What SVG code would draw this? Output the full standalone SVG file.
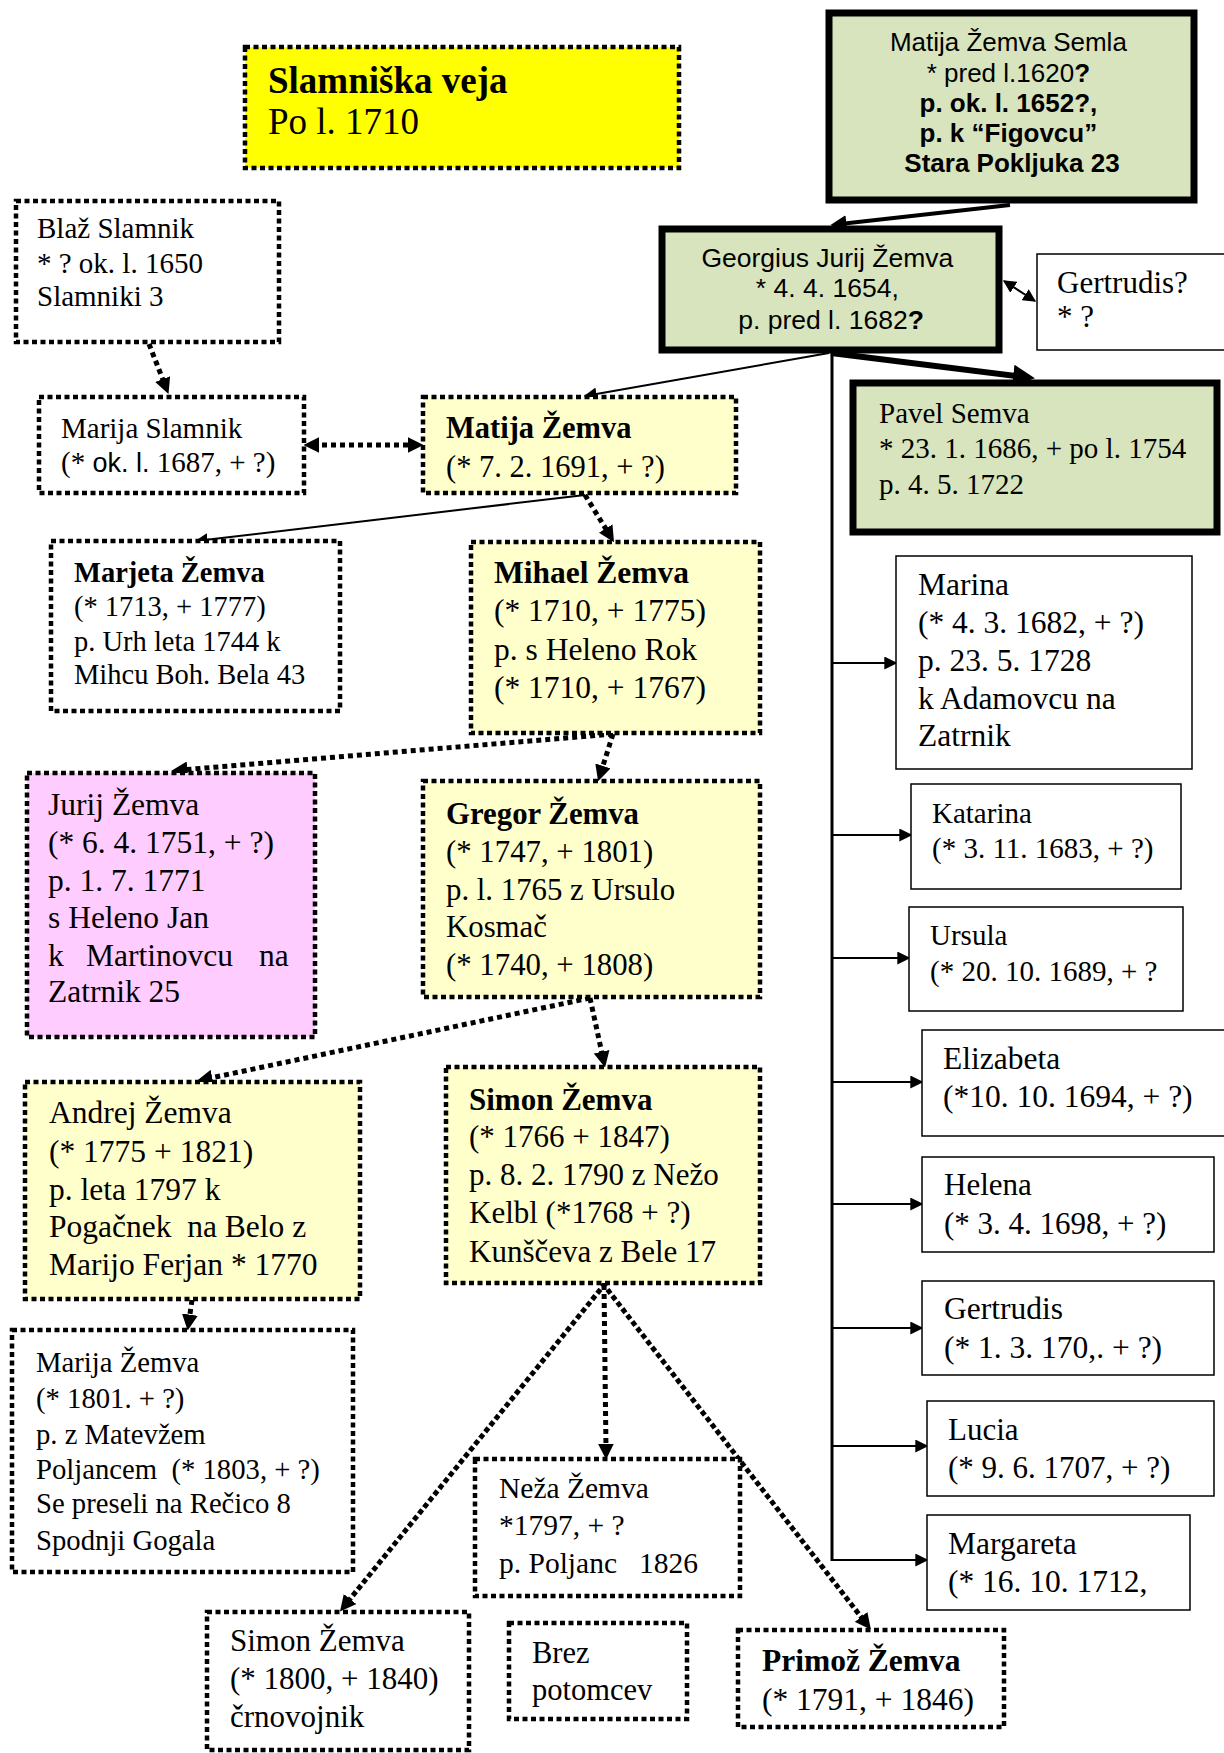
<svg xmlns="http://www.w3.org/2000/svg" width="1224" height="1753" viewBox="0 0 1224 1753">
<style>
.s{font-family:"Liberation Serif","Times New Roman",serif;fill:#000}
.a{font-family:"Liberation Sans",Arial,sans-serif;fill:#000}
.b{font-weight:bold}
.dot{stroke:#000;stroke-width:4.5;stroke-dasharray:5 3.5}
.thin{stroke:#000;stroke-width:1.5}
.thick{stroke:#000;stroke-width:7}
.yl{fill:#FFFFCC}
.wh{fill:#FFFFFF}
.gr{fill:#D7E4BD}
.c{fill:none;stroke:#000}
.cd{fill:none;stroke:#000;stroke-width:5;stroke-dasharray:5 4}
.cr{fill:none;stroke:#000;stroke-width:5;stroke-dasharray:0.1 8;stroke-linecap:square}
</style>
<defs>
<marker id="ar" viewBox="0 0 10 10" refX="4" refY="5" markerWidth="16" markerHeight="16" markerUnits="userSpaceOnUse" orient="auto-start-reverse"><path d="M0,0 L10,5 L0,10 z"/></marker>
<marker id="as" viewBox="0 0 10 10" refX="9" refY="5" markerWidth="13" markerHeight="13" markerUnits="userSpaceOnUse" orient="auto-start-reverse"><path d="M0,0 L10,5 L0,10 z"/></marker>
<marker id="al" viewBox="0 0 10 10" refX="5" refY="5" markerWidth="22" markerHeight="22" markerUnits="userSpaceOnUse" orient="auto"><path d="M0,0 L10,5 L0,10 z"/></marker>
</defs>
<rect width="1224" height="1753" fill="#fff"/>

<g id="connectors">
<line class="c" x1="1010" y1="205" x2="840" y2="224" stroke-width="4" marker-end="url(#ar)"/>
<line class="c" x1="1004" y1="281" x2="1035" y2="301" stroke-width="2" marker-start="url(#as)" marker-end="url(#as)"/>
<line class="c" x1="829" y1="353" x2="585" y2="396" stroke-width="2" marker-end="url(#as)"/>
<line class="c" x1="831" y1="353" x2="1024" y2="377" stroke-width="6" marker-end="url(#al)"/>
<line class="c" x1="832" y1="353" x2="832" y2="1561" stroke-width="3"/>
<line class="c" x1="832" y1="663" x2="896" y2="663" stroke-width="2" marker-end="url(#as)"/>
<line class="c" x1="832" y1="835" x2="911" y2="835" stroke-width="2" marker-end="url(#as)"/>
<line class="c" x1="832" y1="958" x2="909" y2="958" stroke-width="2" marker-end="url(#as)"/>
<line class="c" x1="832" y1="1082" x2="922" y2="1082" stroke-width="2" marker-end="url(#as)"/>
<line class="c" x1="832" y1="1204" x2="922" y2="1204" stroke-width="2" marker-end="url(#as)"/>
<line class="c" x1="832" y1="1328" x2="922" y2="1328" stroke-width="2" marker-end="url(#as)"/>
<line class="c" x1="832" y1="1446" x2="927" y2="1446" stroke-width="2" marker-end="url(#as)"/>
<line class="c" x1="832" y1="1560" x2="927" y2="1560" stroke-width="2" marker-end="url(#as)"/>
<line class="cd" x1="149" y1="344" x2="165" y2="385" marker-end="url(#ar)"/>
<line class="cd" x1="313" y1="445" x2="414" y2="445" marker-start="url(#ar)" marker-end="url(#ar)"/>
<line class="c" x1="585" y1="495" x2="196" y2="541" stroke-width="2" marker-end="url(#as)"/>
<line class="cd" x1="585" y1="495" x2="609" y2="534" marker-end="url(#ar)"/>
<line class="cd" x1="613" y1="734" x2="181" y2="770" marker-end="url(#ar)"/>
<line class="cd" x1="613" y1="734" x2="601" y2="772" marker-end="url(#ar)"/>
<line class="cd" x1="590" y1="998" x2="206" y2="1079" marker-end="url(#ar)"/>
<line class="cd" x1="590" y1="998" x2="603" y2="1058" marker-end="url(#ar)"/>
<line class="cd" x1="192" y1="1300" x2="189" y2="1321" marker-end="url(#ar)"/>
<line class="cr" x1="604" y1="1285" x2="346" y2="1604" marker-end="url(#ar)"/>
<line class="cd" x1="604" y1="1285" x2="606" y2="1450" marker-end="url(#ar)"/>
<line class="cr" x1="604" y1="1285" x2="865" y2="1622" marker-end="url(#ar)"/>
</g>

<g id="slamniska">
<rect x="245" y="47" width="434" height="121" fill="#FFFF00" class="dot"/>
<text class="s b" x="268" y="93" font-size="37">Slamniška veja</text>
<text class="s" x="268" y="134" font-size="37">Po l. 1710</text>
</g>

<g id="matija-semla">
<rect x="829" y="13" width="365" height="187" class="gr thick"/>
<text class="a" font-size="26" text-anchor="middle">
<tspan x="1012" y="51">Matija Žemva Semla</tspan>
<tspan x="1012" y="82">* pred l.1620<tspan class="b">?</tspan></tspan>
<tspan x="1012" y="112" class="b">p. ok. l. 1652?,</tspan>
<tspan x="1012" y="142" class="b">p. k “Figovcu”</tspan>
<tspan x="1012" y="172" class="b">Stara Pokljuka 23</tspan>
</text>
</g>

<g id="georgius">
<rect x="662" y="229" width="337" height="121" class="gr thick"/>
<text class="a" font-size="26.5" text-anchor="middle">
<tspan x="831" y="267">Georgius Jurij Žemva</tspan>
<tspan x="831" y="297">* 4. 4. 1654,</tspan>
<tspan x="831" y="329">p. pred l. 1682<tspan class="b">?</tspan></tspan>
</text>
</g>

<g id="gertrudis-wife">
<rect x="1037" y="254" width="195" height="96" class="wh thin"/>
<text class="s" font-size="31"><tspan x="1057" y="293">Gertrudis?</tspan><tspan x="1057" y="327">* ?</tspan></text>
</g>

<g id="pavel">
<rect x="853" y="383" width="364" height="149" class="gr thick"/>
<text class="s" font-size="29"><tspan x="879" y="423">Pavel Semva</tspan><tspan x="879" y="458">* 23. 1. 1686, + po l. 1754</tspan><tspan x="879" y="494">p. 4. 5. 1722</tspan></text>
</g>

<g id="blaz">
<rect x="16" y="201" width="263" height="141" class="wh dot"/>
<text class="s" font-size="29"><tspan x="37" y="238">Blaž Slamnik</tspan><tspan x="37" y="273">* ? ok. l. 1650</tspan><tspan x="37" y="306">Slamniki 3</tspan></text>
</g>

<g id="marija-slamnik">
<rect x="39" y="397" width="265" height="96" class="wh dot"/>
<text class="s" font-size="29"><tspan x="61" y="438">Marija Slamnik</tspan><tspan x="61" y="472">(* <tspan class="a" font-size="27">ok. l.</tspan> 1687, + ?)</tspan></text>
</g>

<g id="matija">
<rect x="423" y="397" width="313" height="96" class="yl dot"/>
<text class="s" font-size="30.5"><tspan x="446" y="438" class="b">Matija Žemva</tspan><tspan x="446" y="477">(* 7. 2. 1691, + ?)</tspan></text>
</g>

<g id="marjeta">
<rect x="51" y="541" width="289" height="170" class="wh dot"/>
<text class="s" font-size="28.5"><tspan x="74" y="582" class="b">Marjeta Žemva</tspan><tspan x="74" y="616">(* 1713, + 1777)</tspan><tspan x="74" y="651">p. Urh leta 1744 k</tspan><tspan x="74" y="684">Mihcu Boh. Bela 43</tspan></text>
</g>

<g id="mihael">
<rect x="471" y="542" width="289" height="191" class="yl dot"/>
<text class="s" font-size="31.5"><tspan x="494" y="583" class="b">Mihael Žemva</tspan><tspan x="494" y="621">(* 1710, + 1775)</tspan><tspan x="494" y="660">p. s Heleno Rok</tspan><tspan x="494" y="698">(* 1710, + 1767)</tspan></text>
</g>

<g id="jurij">
<rect x="27" y="773" width="288" height="264" fill="#FFCCFF" class="dot"/>
<text class="s" font-size="31.5"><tspan x="48" y="815">Jurij Žemva</tspan><tspan x="48" y="853">(* 6. 4. 1751, + ?)</tspan><tspan x="48" y="891">p. 1. 7. 1771</tspan><tspan x="48" y="928">s Heleno Jan</tspan><tspan x="48" y="966">k</tspan><tspan x="86" y="966">Martinovcu</tspan><tspan x="259" y="966">na</tspan><tspan x="48" y="1002">Zatrnik 25</tspan></text>
</g>

<g id="gregor">
<rect x="423" y="781" width="337" height="216" class="yl dot"/>
<text class="s" font-size="30.8"><tspan x="446" y="824" class="b">Gregor Žemva</tspan><tspan x="446" y="862">(* 1747, + 1801)</tspan><tspan x="446" y="900">p. l. 1765 z Ursulo</tspan><tspan x="446" y="937">Kosmač</tspan><tspan x="446" y="975">(* 1740, + 1808)</tspan></text>
</g>

<g id="andrej">
<rect x="25" y="1082" width="335" height="217" class="yl dot"/>
<text class="s" font-size="31.5" xml:space="preserve"><tspan x="49" y="1123">Andrej Žemva</tspan><tspan x="49" y="1162">(* 1775 + 1821)</tspan><tspan x="49" y="1200">p. leta 1797 k</tspan><tspan x="49" y="1237">Pogačnek  na Belo z</tspan><tspan x="49" y="1275">Marijo Ferjan * 1770</tspan></text>
</g>

<g id="simon">
<rect x="446" y="1067" width="314" height="216" class="yl dot"/>
<text class="s" font-size="31"><tspan x="469" y="1110" class="b">Simon Žemva</tspan><tspan x="469" y="1147">(* 1766 + 1847)</tspan><tspan x="469" y="1185">p. 8. 2. 1790 z Nežo</tspan><tspan x="469" y="1223">Kelbl (*1768 + ?)</tspan><tspan x="469" y="1262">Kunščeva z Bele 17</tspan></text>
</g>

<g id="marija-zemva">
<rect x="12" y="1330" width="341" height="242" class="wh dot"/>
<text class="s" font-size="28.7" xml:space="preserve"><tspan x="36" y="1372">Marija Žemva</tspan><tspan x="36" y="1408">(* 1801. + ?)</tspan><tspan x="36" y="1444">p. z Matevžem</tspan><tspan x="36" y="1479">Poljancem  (* 1803, + ?)</tspan><tspan x="36" y="1513">Se preseli na Rečico 8</tspan><tspan x="36" y="1550">Spodnji Gogala</tspan></text>
</g>

<g id="neza">
<rect x="475" y="1459" width="265" height="137" class="wh dot"/>
<text class="s" font-size="29.5" xml:space="preserve"><tspan x="499" y="1498">Neža Žemva</tspan><tspan x="499" y="1535">*1797, + ?</tspan><tspan x="499" y="1573">p. Poljanc   1826</tspan></text>
</g>

<g id="simon-1800">
<rect x="207" y="1612" width="262" height="138" class="wh dot"/>
<text class="s" font-size="31"><tspan x="230" y="1651">Simon Žemva</tspan><tspan x="230" y="1689">(* 1800, + 1840)</tspan><tspan x="230" y="1727">črnovojnik</tspan></text>
</g>

<g id="brez">
<rect x="509" y="1623" width="178" height="96" class="wh dot"/>
<text class="s" font-size="30.5"><tspan x="532" y="1663">Brez</tspan><tspan x="532" y="1700">potomcev</tspan></text>
</g>

<g id="primoz">
<rect x="738" y="1630" width="266" height="97" class="wh dot"/>
<text class="s" font-size="31.5"><tspan x="762" y="1671" class="b">Primož Žemva</tspan><tspan x="762" y="1710">(* 1791, + 1846)</tspan></text>
</g>

<g id="marina">
<rect x="896" y="556" width="296" height="213" class="wh thin"/>
<text class="s" font-size="31.5"><tspan x="918" y="595">Marina</tspan><tspan x="918" y="633">(* 4. 3. 1682, + ?)</tspan><tspan x="918" y="671">p. 23. 5. 1728</tspan><tspan x="918" y="709">k Adamovcu na</tspan><tspan x="918" y="746">Zatrnik</tspan></text>
</g>

<g id="katarina">
<rect x="911" y="784" width="270" height="105" class="wh thin"/>
<text class="s" font-size="29"><tspan x="932" y="823">Katarina</tspan><tspan x="932" y="858">(* 3. 11. 1683, + ?)</tspan></text>
</g>

<g id="ursula">
<rect x="909" y="907" width="274" height="104" class="wh thin"/>
<text class="s" font-size="29"><tspan x="930" y="945">Ursula</tspan><tspan x="930" y="981">(* 20. 10. 1689, + ?</tspan></text>
</g>

<g id="elizabeta">
<rect x="922" y="1030" width="310" height="106" class="wh thin"/>
<text class="s" font-size="31.5"><tspan x="943" y="1069">Elizabeta</tspan><tspan x="943" y="1107">(*10. 10. 1694, + ?)</tspan></text>
</g>

<g id="helena">
<rect x="922" y="1157" width="292" height="95" class="wh thin"/>
<text class="s" font-size="31"><tspan x="944" y="1195">Helena</tspan><tspan x="944" y="1234">(* 3. 4. 1698, + ?)</tspan></text>
</g>

<g id="gertrudis">
<rect x="922" y="1281" width="292" height="94" class="wh thin"/>
<text class="s" font-size="31.5"><tspan x="944" y="1319">Gertrudis</tspan><tspan x="944" y="1358">(* 1. 3. 170,. + ?)</tspan></text>
</g>

<g id="lucia">
<rect x="927" y="1401" width="287" height="95" class="wh thin"/>
<text class="s" font-size="31"><tspan x="948" y="1440">Lucia</tspan><tspan x="948" y="1478">(* 9. 6. 1707, + ?)</tspan></text>
</g>

<g id="margareta">
<rect x="927" y="1515" width="263" height="95" class="wh thin"/>
<text class="s" font-size="31.5"><tspan x="948" y="1554">Margareta</tspan><tspan x="948" y="1592">(* 16. 10. 1712,</tspan></text>
</g>
</svg>
